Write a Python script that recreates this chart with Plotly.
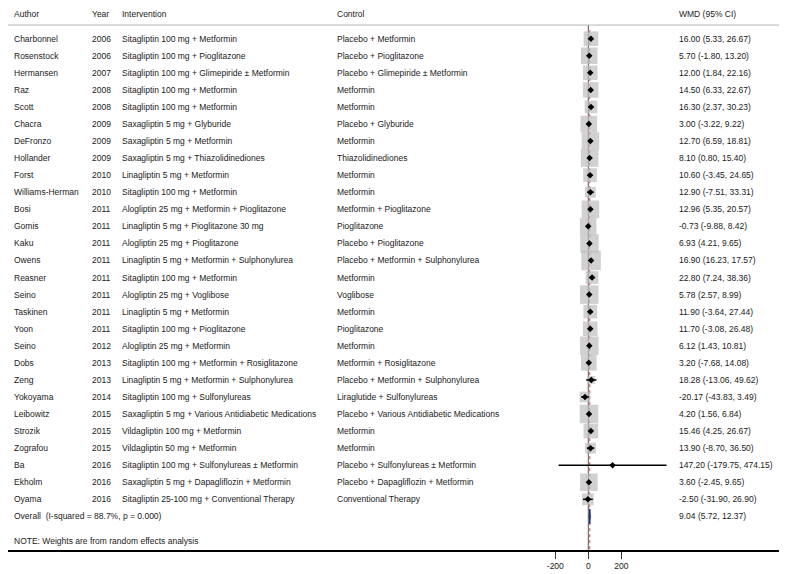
import plotly.graph_objects as go

authors = ["Charbonnel", "Rosenstock", "Hermansen", "Raz", "Scott", "Chacra", "DeFronzo",
           "Hollander", "Forst", "Williams-Herman", "Bosi", "Gomis", "Kaku", "Owens", "Reasner",
           "Seino", "Taskinen", "Yoon", "Seino", "Dobs", "Zeng", "Yokoyama", "Leibowitz",
           "Strozik", "Zografou", "Ba", "Ekholm", "Oyama"]
years = [2006, 2006, 2007, 2008, 2008, 2009, 2009, 2009, 2010, 2010, 2011, 2011, 2011, 2011,
         2011, 2011, 2011, 2011, 2012, 2013, 2013, 2014, 2015, 2015, 2015, 2016, 2016, 2016]
interventions = [
    "Sitagliptin 100 mg + Metformin",
    "Sitagliptin 100 mg + Pioglitazone",
    "Sitagliptin 100 mg + Glimepiride ± Metformin",
    "Sitagliptin 100 mg + Metformin",
    "Sitagliptin 100 mg + Metformin",
    "Saxagliptin 5 mg + Glyburide",
    "Saxagliptin 5 mg + Metformin",
    "Saxagliptin 5 mg + Thiazolidinediones",
    "Linagliptin 5 mg + Metformin",
    "Sitagliptin 100 mg + Metformin",
    "Alogliptin 25 mg + Metformin + Pioglitazone",
    "Linagliptin 5 mg + Pioglitazone 30 mg",
    "Alogliptin 25 mg + Pioglitazone",
    "Linagliptin 5 mg + Metformin + Sulphonylurea",
    "Sitagliptin 100 mg + Metformin",
    "Alogliptin 25 mg + Voglibose",
    "Linagliptin 5 mg + Metformin",
    "Sitagliptin 100 mg + Pioglitazone",
    "Alogliptin 25 mg + Metformin",
    "Sitagliptin 100 mg + Metformin + Rosiglitazone",
    "Linagliptin 5 mg + Metformin + Sulphonylurea",
    "Sitagliptin 100 mg + Sulfonylureas",
    "Saxagliptin 5 mg + Various Antidiabetic Medications",
    "Vildagliptin 100 mg + Metformin",
    "Vildagliptin 50 mg + Metformin",
    "Sitagliptin 100 mg + Sulfonylureas ± Metformin",
    "Saxagliptin 5 mg + Dapagliflozin + Metformin",
    "Sitagliptin 25-100 mg + Conventional Therapy",
]
controls = [
    "Placebo + Metformin",
    "Placebo + Pioglitazone",
    "Placebo + Glimepiride ± Metformin",
    "Metformin",
    "Metformin",
    "Placebo + Glyburide",
    "Metformin",
    "Thiazolidinediones",
    "Metformin",
    "Metformin",
    "Metformin + Pioglitazone",
    "Pioglitazone",
    "Placebo + Pioglitazone",
    "Placebo + Metformin + Sulphonylurea",
    "Metformin",
    "Voglibose",
    "Metformin",
    "Pioglitazone",
    "Metformin",
    "Metformin + Rosiglitazone",
    "Placebo + Metformin + Sulphonylurea",
    "Liraglutide + Sulfonylureas",
    "Placebo + Various Antidiabetic Medications",
    "Metformin",
    "Metformin",
    "Placebo + Sulfonylureas ± Metformin",
    "Placebo + Dapagliflozin + Metformin",
    "Conventional Therapy",
]
wmd = [16.00, 5.70, 12.00, 14.50, 16.30, 3.00, 12.70, 8.10, 10.60, 12.90, 12.96, -0.73, 6.93,
       16.90, 22.80, 5.78, 11.90, 11.70, 6.12, 3.20, 18.28, -20.17, 4.20, 15.46, 13.90, 147.20,
       3.60, -2.50]
ci_low = [5.33, -1.80, 1.84, 6.33, 2.37, -3.22, 6.59, 0.80, -3.45, -7.51, 5.35, -9.88, 4.21,
          16.23, 7.24, 2.57, -3.64, -3.08, 1.43, -7.68, -13.06, -43.83, 1.56, 4.25, -8.70,
          -179.75, -2.45, -31.90]
ci_high = [26.67, 13.20, 22.16, 22.67, 30.23, 9.22, 18.81, 15.40, 24.65, 33.31, 20.57, 8.42,
           9.65, 17.57, 38.36, 8.99, 27.44, 26.48, 10.81, 14.08, 49.62, 3.49, 6.84, 26.67, 36.50,
           474.15, 9.65, 26.90]
weights = [3.35, 4.30, 3.35, 3.81, 2.51, 4.30, 4.82, 4.82, 2.92, 1.80, 4.82, 4.30, 5.37, 5.95,
           2.51, 5.37, 2.92, 3.35, 5.37, 3.81, 0.95, 1.80, 5.37, 3.35, 1.80, 0.01, 4.82, 2.14]
overall_est, overall_low, overall_high = 9.04, 5.72, 12.37
overall_label = "Overall  (I-squared = 88.7%, p = 0.000)"
note_text = "NOTE: Weights are from random effects analysis"
headers = ["Author", "Year", "Intervention", "Control", "WMD (95% CI)"]
tick_vals = [-200, 0, 200]
tick_text = ["-200", "0", "200"]

# page is 787x574; the browser's default body margin offsets the figure by 8px
PAGE_W, PAGE_H = 787, 574
OFF = 8
W, H = PAGE_W - OFF, PAGE_H - OFF
FONT = "Liberation Sans, Arial, sans-serif"
FS = 8.5
TXT = "#1a1a1a"

n = len(authors)
rows = list(range(n))
overall_row = n
note_row = n + 1.45
header_row = -1.45
header_line_row = -0.80

# axis geometry (page pixels converted to figure pixels)
px_per_unit = 0.165
zero_px = 588.3 - OFF
xmin = -zero_px / px_per_unit
xmax = xmin + W / px_per_unit
row0_px, row_h = 38.7 - OFF, 17.06
plot_bottom = 550 - OFF
ymin_row = -row0_px / row_h
ymax_row = (plot_bottom - row0_px) / row_h

col_px = [c - OFF for c in (12, 90, 120, 335, 677)]

fig = go.Figure()

# reference line at zero
fig.add_trace(go.Scatter(x=[0, 0], y=[header_line_row, ymax_row], mode="lines",
                         line=dict(color="#555555", width=1), hoverinfo="skip", showlegend=False))
# overall dashed line
fig.add_trace(go.Scatter(x=[overall_est, overall_est], y=[header_line_row + 0.3, ymax_row], mode="lines",
                         line=dict(color="#c8504f", width=1, dash="3px,3px"), hoverinfo="skip",
                         showlegend=False))

# weight boxes
fig.add_trace(go.Scatter(
    x=wmd, y=rows, mode="markers",
    marker=dict(symbol="square", color="#bdbdbd", size=[8.0 * w ** 0.5 for w in weights],
                line=dict(width=0)),
    hoverinfo="skip", showlegend=False))

# CIs and point estimates
fig.add_trace(go.Scatter(
    x=wmd, y=rows, mode="markers",
    marker=dict(symbol="diamond", color="black", size=5),
    error_x=dict(type="data", symmetric=False,
                 array=[h - e for h, e in zip(ci_high, wmd)],
                 arrayminus=[e - l for e, l in zip(wmd, ci_low)],
                 color="black", thickness=1.5, width=0),
    hoverinfo="skip", showlegend=False))

# overall diamond
dh = 0.44
fig.add_trace(go.Scatter(
    x=[overall_low, overall_est, overall_high, overall_est, overall_low],
    y=[overall_row, overall_row - dh, overall_row, overall_row + dh, overall_row],
    mode="lines", fill="toself", fillcolor="#1a2a8c", line=dict(color="#1a2a8c", width=1),
    hoverinfo="skip", showlegend=False))

ann = []
def add_text(px, row, text):
    ann.append(dict(x=px / W, xref="paper", y=row, yref="y", text=text, showarrow=False,
                    xanchor="left", yanchor="middle", font=dict(family=FONT, size=FS, color=TXT)))

for c, h in zip(col_px, headers):
    add_text(c, header_row, h)
for i in range(n):
    add_text(col_px[0], i, authors[i])
    add_text(col_px[1], i, str(years[i]))
    add_text(col_px[2], i, interventions[i])
    add_text(col_px[3], i, controls[i])
    add_text(col_px[4], i, f"{wmd[i]:.2f} ({ci_low[i]:.2f}, {ci_high[i]:.2f})")
add_text(col_px[0], overall_row, overall_label)
add_text(col_px[4], overall_row, f"{overall_est:.2f} ({overall_low:.2f}, {overall_high:.2f})")
add_text(col_px[0], note_row, note_text)

shapes = [dict(type="line", xref="paper", yref="y", x0=0, x1=1, y0=header_line_row,
               y1=header_line_row, line=dict(color="#b4b4b4", width=1))]

fig.update_layout(
    width=W, height=H, margin=dict(l=0, r=0, t=0, b=H - plot_bottom),
    paper_bgcolor="white", plot_bgcolor="white",
    annotations=ann, shapes=shapes,
    xaxis=dict(range=[xmin, xmax], domain=[0, 1], showgrid=False, zeroline=False,
               showline=True, linecolor="black", linewidth=1.5, ticks="outside",
               ticklen=7, tickwidth=1.2, tickcolor="#333", tickvals=tick_vals, ticktext=tick_text,
               tickfont=dict(family=FONT, size=FS, color=TXT), fixedrange=True),
    yaxis=dict(range=[ymax_row, ymin_row], showgrid=False, zeroline=False, showline=False,
               showticklabels=False, ticks="", fixedrange=True),
    showlegend=False,
)

fig.write_html("out.html")
